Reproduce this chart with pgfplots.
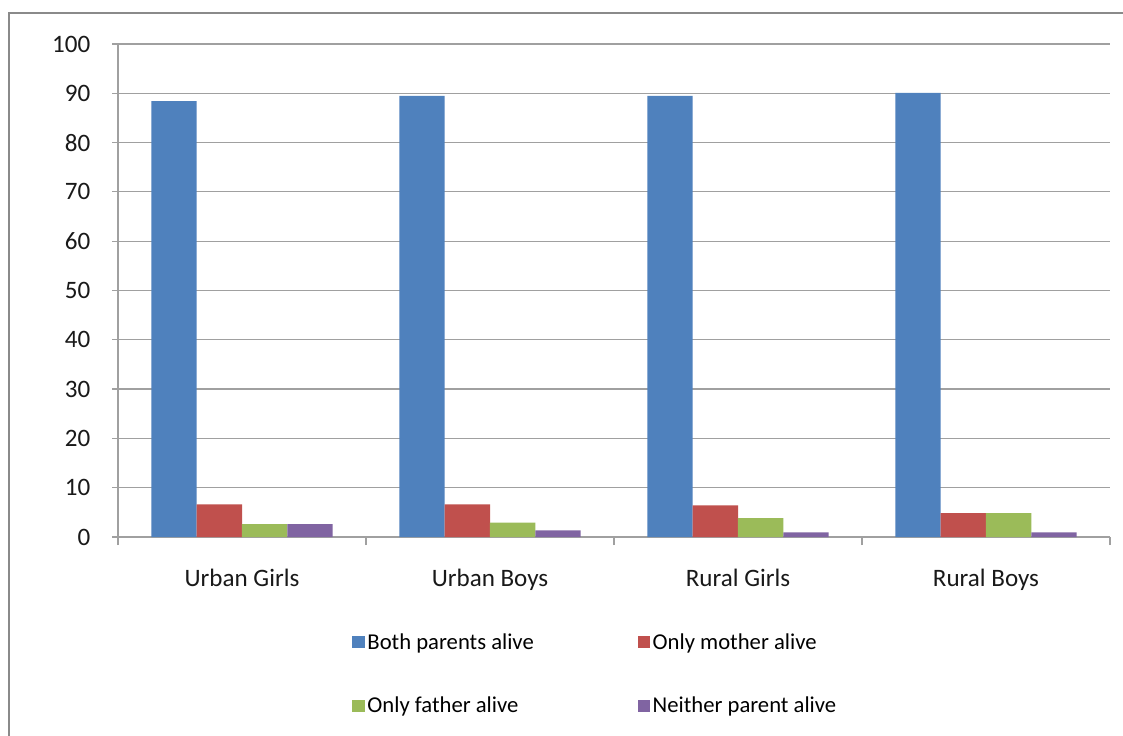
\documentclass[border=0pt]{standalone}
\usepackage{pgfplots}
\pgfplotsset{compat=1.18}
\usepackage{fontspec}
\setmainfont{Carlito}
\newlength{\px}\setlength{\px}{0.75pt}
\definecolor{cblue}{HTML}{4F81BD}
\definecolor{cred}{HTML}{C0504D}
\definecolor{cgreen}{HTML}{9BBB59}
\definecolor{cpurple}{HTML}{8064A2}
\definecolor{gridgray}{HTML}{A0A0A0}
\definecolor{framegray}{HTML}{8A8A8A}
\begin{document}
\begin{tikzpicture}
\useasboundingbox (0,0) rectangle (1123\px,735\px);
\clip (0,0) rectangle (1123\px,735\px);
\fill[white] (0,0) rectangle (1123\px,735\px);
\draw[framegray, line width=2\px] (9\px,-20\px) -- (9\px,722\px) -- (1140\px,722\px);
\begin{axis}[
  at={(118\px,198\px)}, anchor=south west,
  scale only axis, width=992\px, height=493\px,
  xmin=-0.5, xmax=3.5, ymin=0, ymax=100,
  axis lines=left,
  axis line style={gridgray, line width=1.2\px, -},
  ytick={0,10,...,100},
  ymajorgrids, grid style={gridgray, line width=1.2\px},
  xtick={0,1,2,3},
  xticklabels={Urban Girls, Urban Boys, Rural Girls, Rural Boys},
  minor xtick={-0.5,0.5,1.5,2.5,3.5},
  major x tick style={draw=none},
  minor x tick style={gridgray, line width=1.2\px},
  minor tick length=8\px,
  major tick length=6\px,
  y tick style={gridgray, line width=1.2\px},
  tick align=outside,
  tick label style={font=\fontsize{18.8pt}{22pt}\selectfont, text=black!90},
  /pgf/number format/assume math mode=true,
  yticklabel style={xshift=-17\px},
  xticklabel style={yshift=-21\px},
  ybar, bar width=0.1827,
  legend columns=2,
  legend cell align=left,
  legend image code/.code={\draw[#1,draw=none] (0,-6\px) rectangle (12.5\px,6\px);},
  legend style={at={(0.2359,-0.19)}, anchor=north west, draw=none, fill=none,
    font=\fontsize{17pt}{20pt}\selectfont, inner sep=0pt,
    row sep=40\px,
    /tikz/every even column/.append style={column sep=101\px}},
]
\addplot[fill=cblue, draw=none, bar shift=-0.274] coordinates {(0,88.4) (1,89.5) (2,89.5) (3,90.1)};
\addplot[fill=cred, draw=none, bar shift=-0.0913] coordinates {(0,6.6) (1,6.6) (2,6.4) (3,4.85)};
\addplot[fill=cgreen, draw=none, bar shift=0.0913] coordinates {(0,2.6) (1,2.9) (2,3.85) (3,4.85)};
\addplot[fill=cpurple, draw=none, bar shift=0.274] coordinates {(0,2.6) (1,1.35) (2,0.95) (3,0.95)};
\legend{Both parents alive, Only mother alive, Only father alive, Neither parent alive}
\end{axis}
\end{tikzpicture}
\end{document}
